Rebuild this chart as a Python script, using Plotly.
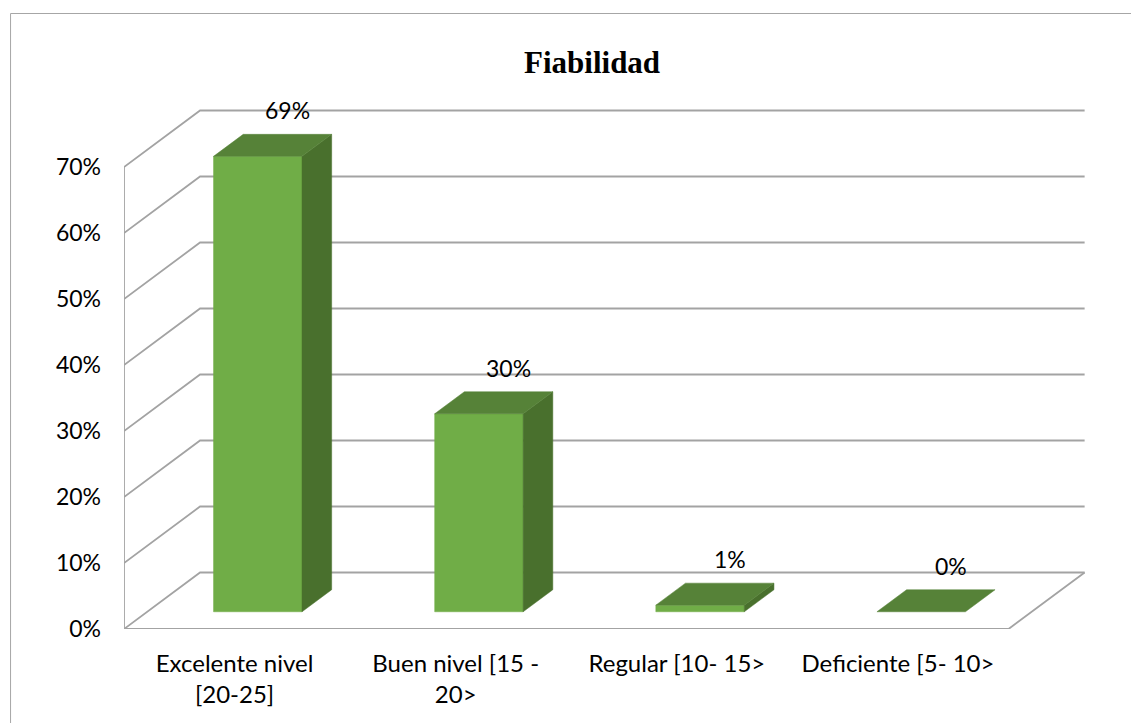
import plotly.graph_objects as go

# Chart data
categories = ["Excelente nivel<br>[20-25]", "Buen nivel [15 -<br>20>", "Regular [10- 15>", "Deficiente [5- 10>"]
values = [69, 30, 1, 0]
y_ticks = [0, 10, 20, 30, 40, 50, 60, 70]
title_text = "Fiabilidad"

# Pseudo-3D geometry (in axis units)
DX = 0.344          # depth offset along x (categories)
DY = 8.56           # depth offset along y (percent)
BAR_W = 0.40        # bar width (fraction of a category)
BAR_D = 0.39        # bar depth (fraction of the full depth)
F1 = 0.5 - BAR_D / 2
F2 = 0.5 + BAR_D / 2

GRID = "#A3A3A3"
FRONT = "#70AD47"
TOP = "#568238"
SIDE = "#49702D"
FONT = "Lato"
SERIF = "Liberation Serif, Times New Roman, DejaVu Serif, serif"

n = len(categories)
fig = go.Figure()


def line(xs, ys, color=GRID, width=1.8):
    fig.add_trace(go.Scatter(x=xs, y=ys, mode="lines", line=dict(color=color, width=width),
                             hoverinfo="skip", showlegend=False))


def poly(xs, ys, color):
    fig.add_trace(go.Scatter(x=xs + [xs[0]], y=ys + [ys[0]], mode="lines", fill="toself",
                             fillcolor=color, line=dict(color=color, width=0.5),
                             hoverinfo="skip", showlegend=False))


# Side wall diagonals and back wall gridlines
for t in y_ticks:
    line([0, DX, n + DX], [t, t + DY, t + DY])
# Floor front edge, right edge and left front edge
line([n + DX, n, 0, 0], [DY, 0, 0, y_ticks[-1]])

# Bars
for i, v in enumerate(values):
    x0 = i + (1 - BAR_W) / 2 + F1 * DX
    x1 = x0 + BAR_W
    yb = F1 * DY
    yt = v + yb
    ddx = BAR_D * DX
    ddy = BAR_D * DY
    if v > 0:
        poly([x0, x1, x1, x0], [yb, yb, yt, yt], FRONT)
        poly([x1, x1 + ddx, x1 + ddx, x1], [yb, yb + ddy, yt + ddy, yt], SIDE)
    poly([x0, x1, x1 + ddx, x0 + ddx], [yt, yt, yt + ddy, yt + ddy], TOP)

# Value labels above each bar
for i, v in enumerate(values):
    xc = i + 0.5 + F2 * DX
    fig.add_annotation(x=xc, y=v + F2 * DY, text=f"{v}%", showarrow=False,
                       yshift=24, xanchor="center", yanchor="middle",
                       font=dict(family=FONT, size=23, color="#000000"))

# Chart title
fig.add_annotation(text=f"<b>{title_text}</b>", xref="paper", yref="paper",
                   x=(592 - 124) / 973, y=(629 - 63) / 528, xanchor="center", yanchor="middle",
                   showarrow=False, font=dict(family=SERIF, size=31, color="#000000"))

# Chart border
fig.add_shape(type="rect", xref="paper", yref="paper",
              x0=-0.1166, x1=1.036, y0=-0.19, y1=1.1657,
              line=dict(color="#A6A6A6", width=1), fillcolor="rgba(0,0,0,0)", layer="below")

fig.update_layout(
    width=1131, height=723,
    margin=dict(l=124, r=34, t=101, b=94),
    paper_bgcolor="white", plot_bgcolor="white",
    xaxis=dict(range=[0, 4.4], tickvals=[i + 0.5 for i in range(n)], ticktext=categories,
               showgrid=False, zeroline=False, showline=False, ticks="",
               ticklabelstandoff=18,
               tickfont=dict(family=FONT, size=24, color="#000000")),
    yaxis=dict(range=[0, 80], tickvals=y_ticks, ticktext=[f"{t}%" for t in y_ticks],
               showgrid=False, zeroline=False, showline=False, ticks="",
               ticklabelstandoff=22,
               tickfont=dict(family=FONT, size=23, color="#000000")),
    showlegend=False,
)

fig.write_html("out.html")
